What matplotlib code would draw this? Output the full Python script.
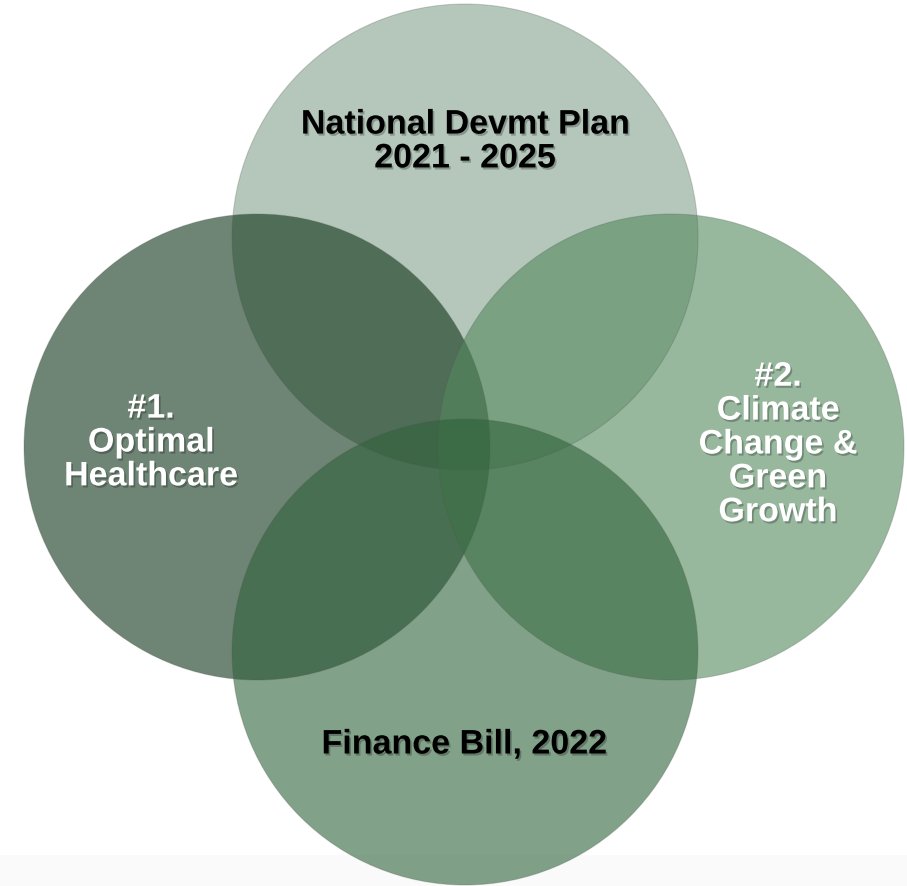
import matplotlib
matplotlib.use("Agg")
import matplotlib.pyplot as plt
from matplotlib.patches import Circle
import matplotlib.patheffects as pe

# circle sets: centre (pixels), radius, colour
names = ['National Devmt Plan\n2021 - 2025', '#1.\nOptimal\nHealthcare',
         '#2.\nClimate\nChange &\nGreen\nGrowth', 'Finance Bill, 2022']
cx = [465, 257, 671, 465]
cy = [237, 447, 447, 652]
radius = 233
colors = ['#82a28c', '#0d3217', '#53895d', '#2f623a']
label_x = [465, 151, 778, 464]
label_y = [142, 443, 445, 745]
label_colors = ['black', 'white', 'white', 'black']

fig = plt.figure(figsize=(9.07, 8.86), dpi=100)
ax = fig.add_axes([0, 0, 1, 1])
ax.set_xlim(0, 907)
ax.set_ylim(886, 0)
ax.set_aspect('equal')
ax.axis('off')

ax.axhspan(855, 886, color='#fafafa', zorder=0, lw=0)

for x, y, c in zip(cx, cy, colors):
    ax.add_patch(Circle((x, y), radius, facecolor=c, alpha=0.6,
                        edgecolor='none', zorder=1))
    ax.add_patch(Circle((x, y), radius, facecolor='none',
                        edgecolor=(0.3, 0.35, 0.3, 0.25), lw=0.8, zorder=2))

shadow = [pe.SimplePatchShadow(offset=(1.2, -1.5), shadow_rgbFace='black', alpha=0.25),
          pe.Normal()]
for t, x, y, tc in zip(names, label_x, label_y, label_colors):
    ax.text(x, y, t, ha='center', va='center', fontsize=24.5, fontweight='bold',
            family='Liberation Sans', color=tc, linespacing=1.12,
            path_effects=shadow, zorder=5)

fig.savefig('out.png', dpi=100)
plt.close()
